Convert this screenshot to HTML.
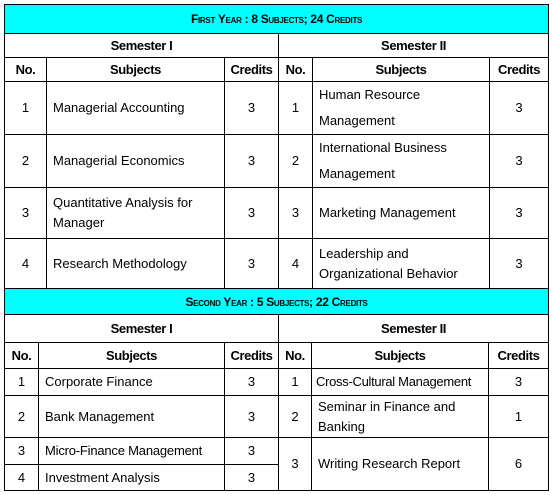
<!DOCTYPE html>
<html><head><meta charset="utf-8"><style>
body{margin:0;width:552px;height:495px;background:#fff;position:relative;font-family:"Liberation Sans",Tahoma,sans-serif;color:#000;overflow:hidden}
table{position:absolute;left:4px;width:544px;border-collapse:collapse;table-layout:fixed;font-size:13px}
td{border:1px solid #000;padding:0 6px;line-height:18px;vertical-align:middle;overflow:hidden}
td.c{text-align:center;padding:0}
.t{background:#00ffff;text-align:center;font-weight:bold;font-size:12px;font-variant:small-caps;letter-spacing:-0.3px;padding:0}
.h{font-weight:bold;text-align:center;letter-spacing:-0.4px;padding:0}
.w{line-height:26px}
</style></head><body>
<table style="top:4px">
<colgroup><col style="width:42px"><col style="width:178px"><col style="width:54px"><col style="width:34px"><col style="width:177px"><col style="width:59px"></colgroup>
<tr style="height:29px"><td colspan="6" class="t">First Year : 8 Subjects; 24 Credits</td></tr>
<tr style="height:24px"><td colspan="3" class="h">Semester I</td><td colspan="3" class="h">Semester II</td></tr>
<tr style="height:24px"><td class="h">No.</td><td class="h">Subjects</td><td class="h">Credits</td><td class="h">No.</td><td class="h">Subjects</td><td class="h">Credits</td></tr>
<tr style="height:53px"><td class="c">1</td><td>Managerial Accounting</td><td class="c">3</td><td class="c">1</td><td class="w">Human Resource Management</td><td class="c">3</td></tr>
<tr style="height:53px"><td class="c">2</td><td>Managerial Economics</td><td class="c">3</td><td class="c">2</td><td class="w">International Business Management</td><td class="c">3</td></tr>
<tr style="height:51px"><td class="c">3</td><td style="line-height:20px">Quantitative Analysis for Manager</td><td class="c">3</td><td class="c">3</td><td>Marketing Management</td><td class="c">3</td></tr>
<tr style="height:50px"><td class="c">4</td><td>Research Methodology</td><td class="c">3</td><td class="c">4</td><td style="line-height:20px">Leadership and Organizational Behavior</td><td class="c">3</td></tr>
</table>
<table style="top:288px">
<colgroup><col style="width:34px"><col style="width:186px"><col style="width:54px"><col style="width:33px"><col style="width:177px"><col style="width:60px"></colgroup>
<tr style="height:26px"><td colspan="6" class="t">Second Year : 5 Subjects; 22 Credits</td></tr>
<tr style="height:28px"><td colspan="3" class="h">Semester I</td><td colspan="3" class="h">Semester II</td></tr>
<tr style="height:26px"><td class="h">No.</td><td class="h">Subjects</td><td class="h">Credits</td><td class="h">No.</td><td class="h">Subjects</td><td class="h">Credits</td></tr>
<tr style="height:27px"><td class="c">1</td><td>Corporate Finance</td><td class="c">3</td><td class="c">1</td><td style="padding:0 4px;letter-spacing:-0.3px">Cross-Cultural Management</td><td class="c">3</td></tr>
<tr style="height:42px"><td class="c">2</td><td>Bank Management</td><td class="c">3</td><td class="c">2</td><td style="line-height:20px">Seminar in Finance and Banking</td><td class="c">1</td></tr>
<tr style="height:27px"><td class="c">3</td><td style="letter-spacing:-0.2px">Micro-Finance Management</td><td class="c">3</td><td class="c" rowspan="2">3</td><td rowspan="2">Writing Research Report</td><td class="c" rowspan="2">6</td></tr>
<tr style="height:26px"><td class="c">4</td><td>Investment Analysis</td><td class="c">3</td></tr>
</table>
</body></html>
